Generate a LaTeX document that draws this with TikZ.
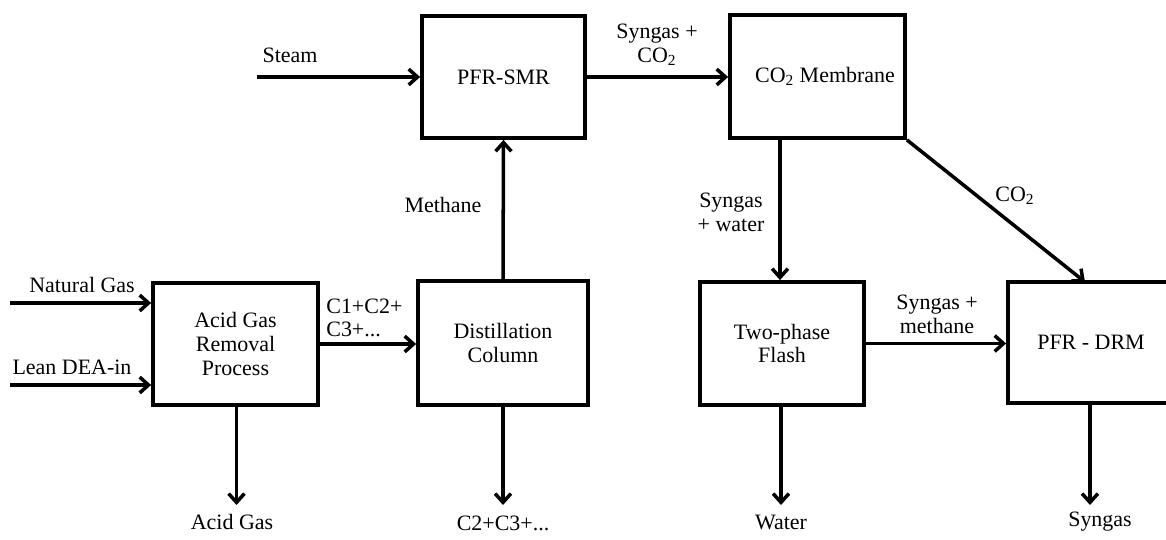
\documentclass[tikz,border=0pt]{standalone}
\usepackage{fontspec}
\setmainfont{Liberation Serif}
\usetikzlibrary{arrows.meta}
\newcommand\lblfont{\fontsize{12.5}{13.5}\selectfont}
\begin{document}
\begin{tikzpicture}[x=0.02cm,y=-0.02cm,
  box/.style={draw,line width=2.2pt,inner sep=0pt,align=center,font=\lblfont},
  arr/.style={line width=2pt,-{Straight Barb[length=5pt,width=9pt]}},
  lbl/.style={inner sep=0pt,align=center,font=\lblfont},
  lbll/.style={inner sep=0pt,align=left,font=\lblfont}]
\useasboundingbox (0,0) rectangle (1166,540);
% boxes
\node[box,minimum width=3.26cm,minimum height=2.44cm] (smr) at (503.5,77) {PFR-SMR};
\node[box,minimum width=3.5cm,minimum height=2.46cm] (mem) at (817.5,76.5) {\hspace*{0.3cm}CO\textsubscript{2} Membrane};
\node[box,minimum width=3.3cm,minimum height=2.44cm] (agr) at (235.5,344) {Acid Gas\\Removal\\Process};
\node[box,minimum width=3.4cm,minimum height=2.48cm] (dist) at (503,343) {Distillation\\Column};
\node[box,minimum width=3.28cm,minimum height=2.46cm] (flash) at (782,343.5) {Two-phase\\Flash};
\node[box,minimum width=3.32cm,minimum height=2.42cm] (drm) at (1091,342.5) {PFR - DRM};
% coordinates
\coordinate (steamin) at (257,77);
\coordinate (ngin) at (10,303);
\coordinate (leanin) at (10,385);
\coordinate (agout) at (236.5,505);
\coordinate (c2out) at (503,505);
\coordinate (wout) at (781,505);
\coordinate (sgout) at (1090,505);
\coordinate (memdown) at (780,138);
\coordinate (diagend) at (1085,282);
% connectors
\draw[arr] (steamin) -- (smr.west |- steamin);
\draw[arr] (smr.east) -- (mem.west |- smr.east);
\draw[arr] (dist.north) -- (smr.south);
\draw[arr] (memdown) -- (memdown |- flash.north);
\draw[arr] (mem.south east) -- (diagend);
\draw[arr] (flash.east) -- (drm.west |- flash.east);
\draw[arr] (agr.east) -- (dist.west |- agr.east);
\draw[arr] (ngin) -- (agr.west |- ngin);
\draw[arr] (leanin) -- (agr.west |- leanin);
\draw[arr] (agr.south -| agout) -- (agout);
\draw[arr] (dist.south) -- (c2out);
\draw[arr] (flash.south -| wout) -- (wout);
\draw[arr] (drm.south -| sgout) -- (sgout);
% labels
\node[lbl] (lsteam) at (290,55) {Steam};
\node[lbl] (lsyn1) at (657,45) {Syngas +\\CO\textsubscript{2}};
\node[lbl] (lmeth) at (443,205) {Methane};
\node[lbl] (lsw) at (731,212) {Syngas\\+ water};
\node[lbl] (lco2) at (1015,196) {CO\textsubscript{2}};
\node[lbl] (lng) at (82,285) {Natural Gas};
\node[lbl] (llean) at (72,367) {Lean DEA-in};
\node[lbll,anchor=west] (lc1) at (326,318) {C1+C2+\\C3+...};
\node[lbl] (lsm) at (937,314) {Syngas +\\methane};
\node[lbl] (lag) at (232,522) {Acid Gas};
\node[lbl] (lc2) at (503,523) {C2+C3+...};
\node[lbl] (lw) at (781,522) {Water};
\node[lbl] (lsg) at (1100,522) {Syngas};
\end{tikzpicture}
\end{document}
